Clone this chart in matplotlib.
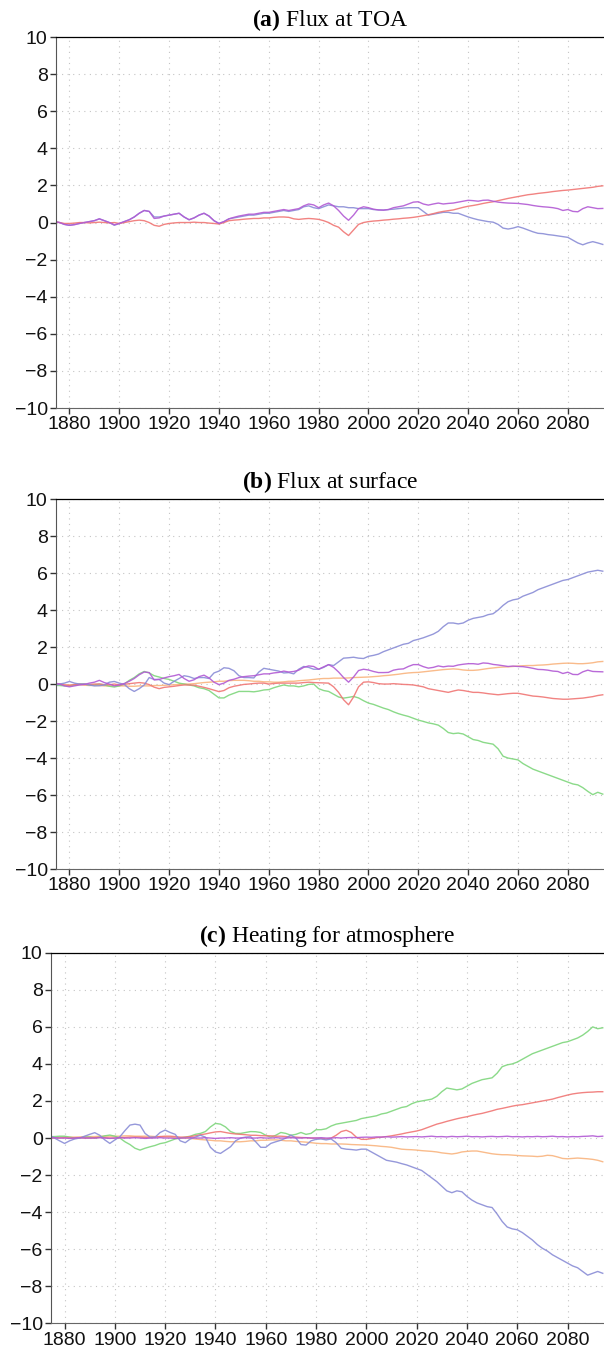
import numpy as np
import matplotlib
matplotlib.use("Agg")
import matplotlib.pyplot as plt

plt.rcParams['font.family'] = ['Liberation Sans', 'DejaVu Sans']
plt.rcParams['mathtext.fontset'] = 'custom'
plt.rcParams['mathtext.rm'] = 'Liberation Serif'
plt.rcParams['mathtext.bf'] = 'Liberation Serif:bold'
plt.rcParams['axes.unicode_minus'] = True

# years, every second year
years = np.arange(1874, 2095, 2)

# ---- (a) Flux at TOA ----
toa_blue = [0.05, 0.0, -0.1,
            -0.15, -0.1, -0.05, 0.0, 0.05,
            0.1, 0.2, 0.1, 0.0, -0.15,
            -0.05, 0.05, 0.15, 0.3, 0.5,
            0.65, 0.6, 0.3, 0.3, 0.35,
            0.4, 0.45, 0.5, 0.3, 0.15,
            0.25, 0.4, 0.5, 0.35, 0.1,
            -0.05, 0.05, 0.2, 0.25, 0.3,
            0.35, 0.4, 0.4, 0.45, 0.5,
            0.5, 0.55, 0.6, 0.65, 0.6,
            0.65, 0.7, 0.85, 0.9, 0.8,
            0.75, 0.85, 0.95, 0.9, 0.85,
            0.85, 0.8, 0.8, 0.75, 0.75,
            0.75, 0.7, 0.68, 0.67, 0.7,
            0.72, 0.75, 0.78, 0.8, 0.8,
            0.8, 0.6, 0.4, 0.45, 0.5,
            0.55, 0.55, 0.5, 0.5, 0.4,
            0.3, 0.22, 0.15, 0.1, 0.05,
            0.02, -0.1, -0.3, -0.35, -0.3,
            -0.22, -0.3, -0.4, -0.5, -0.58,
            -0.6, -0.65, -0.68, -0.72, -0.76,
            -0.8, -0.95, -1.1, -1.2, -1.1,
            -1.03, -1.1, -1.18]
toa_purple = [0.05, 0.0, -0.1,
              -0.15, -0.12, -0.05, 0.0, 0.05,
              0.1, 0.2, 0.1, 0.0, -0.12,
              -0.05, 0.05, 0.15, 0.3, 0.5,
              0.65, 0.6, 0.22, 0.25, 0.35,
              0.4, 0.45, 0.5, 0.3, 0.15,
              0.25, 0.4, 0.5, 0.35, 0.1,
              -0.05, 0.05, 0.2, 0.28, 0.35,
              0.4, 0.45, 0.45, 0.5, 0.55,
              0.55, 0.6, 0.65, 0.7, 0.65,
              0.7, 0.75, 0.9, 1.0, 0.95,
              0.8, 0.95, 1.05, 0.9, 0.65,
              0.35, 0.12, 0.4, 0.75, 0.85,
              0.8, 0.72, 0.68, 0.67, 0.7,
              0.8, 0.85, 0.9, 1.0, 1.1,
              1.12, 1.0, 0.94, 1.0, 1.05,
              1.0, 1.03, 1.05, 1.1, 1.15,
              1.2, 1.18, 1.15, 1.2, 1.21,
              1.15, 1.1, 1.07, 1.05, 1.04,
              1.03, 1.0, 0.97, 0.92, 0.88,
              0.85, 0.83, 0.8, 0.75, 0.65,
              0.7, 0.6, 0.58, 0.75, 0.85,
              0.8, 0.75, 0.76]
toa_red = [0.05, 0.0, -0.05,
           -0.05, -0.03, 0.0, 0.0, -0.02,
           0.0, 0.02, 0.0, -0.02, 0.0,
           -0.05, 0.0, 0.05, 0.1, 0.13,
           0.1, 0.0, -0.15, -0.2, -0.1,
           -0.05, -0.02, 0.0, 0.0, 0.0,
           0.02, 0.0, 0.0, -0.03, -0.05,
           -0.08, 0.0, 0.1, 0.13, 0.15,
           0.18, 0.2, 0.22, 0.22, 0.25,
           0.25, 0.28, 0.3, 0.3, 0.28,
           0.2, 0.17, 0.2, 0.22, 0.2,
           0.17, 0.1, 0.0, -0.15, -0.25,
           -0.5, -0.7, -0.4, -0.1, 0.0,
           0.05, 0.08, 0.1, 0.13, 0.15,
           0.18, 0.2, 0.23, 0.25, 0.28,
           0.32, 0.37, 0.42, 0.48, 0.55,
           0.6, 0.64, 0.68, 0.75, 0.82,
           0.88, 0.92, 0.97, 1.03, 1.08,
           1.12, 1.18, 1.24, 1.3, 1.35,
           1.4, 1.45, 1.5, 1.53, 1.57,
           1.6, 1.63, 1.67, 1.7, 1.73,
           1.75, 1.78, 1.81, 1.84, 1.87,
           1.9, 1.95, 1.98]

# ---- (b) Flux at surface ----
sfc_blue = [-0.1, 0.0, 0.05,
            0.14, 0.05, 0.0, 0.0, -0.05,
            -0.1, -0.09, -0.05, 0.1, 0.14,
            0.05, -0.02, -0.25, -0.4, -0.25,
            -0.05, 0.35, 0.25, 0.25, 0.05,
            -0.03, 0.15, 0.3, 0.45, 0.4,
            0.3, 0.35, 0.35, 0.3, 0.6,
            0.7, 0.88, 0.85, 0.72, 0.45,
            0.35, 0.35, 0.33, 0.65, 0.85,
            0.8, 0.75, 0.7, 0.6, 0.62,
            0.55, 0.8, 0.95, 0.9, 0.8,
            0.8, 0.9, 1.05, 1.0, 1.2,
            1.4, 1.42, 1.45, 1.4, 1.38,
            1.5, 1.55, 1.62, 1.75, 1.85,
            1.95, 2.05, 2.15, 2.2, 2.35,
            2.42, 2.5, 2.6, 2.7, 2.85,
            3.1, 3.3, 3.3, 3.25, 3.3,
            3.45, 3.55, 3.6, 3.65, 3.75,
            3.8, 4.0, 4.25, 4.45, 4.55,
            4.6, 4.75, 4.85, 4.95, 5.1,
            5.2, 5.3, 5.4, 5.5, 5.6,
            5.65, 5.75, 5.85, 5.95, 6.05,
            6.1, 6.15, 6.1]
sfc_purple = [0.05, 0.0, -0.1,
              -0.15, -0.1, -0.05, -0.02, 0.05,
              0.1, 0.2, 0.08, 0.0, -0.1,
              -0.05, 0.03, 0.15, 0.3, 0.5,
              0.65, 0.62, 0.22, 0.25, 0.33,
              0.4, 0.45, 0.52, 0.3, 0.15,
              0.23, 0.4, 0.48, 0.33, 0.1,
              -0.03, 0.05, 0.2, 0.26, 0.35,
              0.4, 0.43, 0.45, 0.5, 0.55,
              0.55, 0.6, 0.63, 0.7, 0.65,
              0.68, 0.75, 0.9, 0.98, 0.95,
              0.8, 0.93, 1.05, 0.9, 0.65,
              0.35, 0.1, 0.38, 0.73, 0.8,
              0.76, 0.68, 0.62, 0.62, 0.63,
              0.75, 0.8, 0.82, 0.95, 1.05,
              1.05, 0.94, 0.86, 0.9, 0.98,
              0.93, 0.97, 0.96, 1.03, 1.07,
              1.1, 1.1, 1.07, 1.14, 1.12,
              1.06, 1.03, 0.99, 0.95, 0.97,
              0.95, 0.94, 0.9, 0.85, 0.79,
              0.78, 0.75, 0.7, 0.68, 0.57,
              0.64, 0.52, 0.51, 0.66, 0.75,
              0.68, 0.67, 0.66]
sfc_red = [0.05, 0.0, -0.05,
           -0.07, -0.03, 0.0, -0.02, -0.02,
           0.0, 0.0, -0.03, -0.04, 0.0,
           -0.05, -0.02, 0.02, 0.05, 0.08,
           0.05, -0.03, -0.17, -0.25, -0.18,
           -0.15, -0.12, -0.08, -0.05, -0.05,
           -0.06, -0.12, -0.18, -0.25, -0.33,
           -0.41, -0.35, -0.2, -0.12, -0.07,
           -0.02, 0.0, 0.03, 0.05, 0.05,
           0.0, 0.03, 0.05, 0.05, 0.05,
           0.05, 0.05, 0.08, 0.1, 0.08,
           0.07, 0.06, 0.05, -0.15, -0.45,
           -0.85, -1.12, -0.7, -0.15, 0.1,
           0.12, 0.08, 0.02, 0.0, 0.0,
           0.02, 0.0, -0.02, -0.03, -0.05,
           -0.1, -0.15, -0.25, -0.3, -0.35,
           -0.4, -0.45, -0.38, -0.32, -0.35,
           -0.4, -0.45, -0.45, -0.48, -0.52,
           -0.55, -0.58, -0.55, -0.52, -0.5,
           -0.5, -0.55, -0.6, -0.65, -0.67,
           -0.7, -0.74, -0.78, -0.8, -0.82,
           -0.82, -0.8, -0.78, -0.76, -0.72,
           -0.68, -0.62, -0.58]
sfc_green = [-0.07, -0.08, -0.1,
             -0.1, -0.05, 0.0, 0.0, -0.05,
             -0.05, 0.0, -0.05, -0.12, -0.16,
             -0.1, 0.0, 0.2, 0.35, 0.55,
             0.68, 0.6, 0.45, 0.38, 0.3,
             0.25, 0.15, 0.05, 0.0, -0.05,
             -0.1, -0.2, -0.25, -0.35, -0.55,
             -0.75, -0.75, -0.6, -0.5, -0.4,
             -0.4, -0.4, -0.42, -0.38, -0.32,
             -0.3, -0.2, -0.12, -0.05, -0.1,
             -0.1, -0.15, -0.1, -0.02, 0.0,
             -0.25, -0.35, -0.4, -0.55, -0.7,
             -0.76, -0.72, -0.67, -0.75, -0.9,
             -1.03, -1.1, -1.2, -1.3, -1.38,
             -1.5, -1.6, -1.68, -1.75, -1.85,
             -1.95, -2.02, -2.1, -2.15, -2.22,
             -2.4, -2.62, -2.68, -2.65, -2.7,
             -2.85, -3.0, -3.05, -3.15, -3.2,
             -3.25, -3.5, -3.9, -4.0, -4.05,
             -4.1, -4.3, -4.45, -4.6, -4.7,
             -4.8, -4.9, -5.0, -5.1, -5.2,
             -5.3, -5.4, -5.45, -5.6, -5.8,
             -5.98, -5.85, -5.95]
sfc_orange = [0.0, -0.02, -0.05,
              -0.05, -0.05, -0.04, -0.06, -0.08,
              -0.07, -0.08, -0.1, -0.1, -0.1,
              -0.1, -0.1, -0.12, -0.12, -0.1,
              -0.1, -0.1, -0.08, -0.08, -0.07,
              -0.05, -0.04, -0.02, 0.0, 0.0,
              0.02, 0.05, 0.08, 0.1, 0.12,
              0.15, 0.15, 0.18, 0.2, 0.2,
              0.2, 0.18, 0.15, 0.15, 0.12,
              0.12, 0.1, 0.1, 0.12, 0.15,
              0.15, 0.18, 0.2, 0.22, 0.25,
              0.28, 0.3, 0.3, 0.32, 0.32,
              0.32, 0.33, 0.35, 0.36, 0.37,
              0.38, 0.4, 0.42, 0.45, 0.47,
              0.5, 0.53, 0.57, 0.6, 0.62,
              0.63, 0.66, 0.69, 0.72, 0.75,
              0.78, 0.8, 0.82, 0.8, 0.76,
              0.74, 0.74, 0.76, 0.8, 0.84,
              0.87, 0.9, 0.92, 0.93, 0.95,
              0.97, 0.99, 1.0, 1.0, 1.02,
              1.03, 1.05, 1.08, 1.1, 1.12,
              1.13, 1.12, 1.1, 1.1, 1.12,
              1.15, 1.2, 1.22]

# ---- (c) Heating for atmosphere ----
atm_blue = [0.16, 0.0, -0.15,
            -0.29, -0.15, -0.05, 0.0, 0.1,
            0.2, 0.29, 0.15, -0.1, -0.29,
            -0.1, 0.07, 0.4, 0.7, 0.75,
            0.7, 0.25, 0.05, 0.05, 0.3,
            0.43, 0.3, 0.2, -0.15, -0.25,
            -0.05, 0.05, 0.15, 0.05, -0.5,
            -0.75, -0.83, -0.65, -0.47, -0.15,
            0.0, 0.05, 0.07, -0.2, -0.5,
            -0.5, -0.29, -0.2, -0.12, 0.0,
            0.16, 0.0, -0.35, -0.38, -0.15,
            -0.07, -0.05, -0.1, -0.05, -0.25,
            -0.55, -0.6, -0.62, -0.65, -0.6,
            -0.6, -0.75, -0.9, -1.05, -1.2,
            -1.25, -1.3, -1.38, -1.45, -1.55,
            -1.65, -1.75, -1.95, -2.15, -2.35,
            -2.6, -2.85, -2.95, -2.85, -2.9,
            -3.15, -3.35, -3.5, -3.6, -3.7,
            -3.75, -4.1, -4.5, -4.8, -4.9,
            -4.95, -5.1, -5.3, -5.5, -5.75,
            -5.95, -6.1, -6.3, -6.45, -6.6,
            -6.75, -6.9, -7.0, -7.2, -7.4,
            -7.3, -7.2, -7.3]
atm_purple = [0.0, 0.02, 0.0,
              0.0, -0.02, 0.0, 0.02, 0.0,
              0.0, 0.0, 0.02, 0.0, -0.02,
              0.0, 0.02, 0.0, 0.0, 0.02,
              0.0, -0.02, 0.0, 0.0, 0.02,
              0.0, 0.0, -0.02, 0.0, 0.0,
              0.02, 0.0, 0.0, 0.02, 0.0,
              -0.02, 0.0, 0.0, 0.02, 0.0,
              0.0, 0.02, 0.0, 0.0, 0.02,
              0.0, 0.0, 0.02, 0.0, 0.0,
              0.02, 0.0, 0.0, 0.02, 0.0,
              0.0, 0.02, 0.0, 0.0, 0.02,
              0.0, 0.02, 0.03, 0.02, 0.04,
              0.05, 0.04, 0.06, 0.05, 0.07,
              0.05, 0.06, 0.08, 0.06, 0.07,
              0.08, 0.06, 0.08, 0.1, 0.07,
              0.08, 0.06, 0.09, 0.07, 0.08,
              0.1, 0.07, 0.08, 0.06, 0.08,
              0.09, 0.07, 0.08, 0.1, 0.07,
              0.08, 0.06, 0.08, 0.07, 0.09,
              0.07, 0.08, 0.1, 0.07, 0.08,
              0.06, 0.08, 0.07, 0.09, 0.1,
              0.12, 0.08, 0.1]
atm_red = [0.0, 0.0, 0.0,
           0.02, 0.0, 0.0, 0.02, 0.0,
           0.0, 0.02, 0.03, 0.02, 0.0,
           0.0, 0.02, 0.03, 0.05, 0.05,
           0.05, 0.03, 0.02, 0.05, 0.08,
           0.1, 0.1, 0.08, 0.05, 0.05,
           0.08, 0.12, 0.18, 0.22, 0.28,
           0.33, 0.35, 0.3, 0.25, 0.22,
           0.2, 0.18, 0.15, 0.15, 0.13,
           0.12, 0.12, 0.1, 0.1, 0.08,
           0.05, 0.05, 0.03, 0.02, 0.0,
           0.0, -0.02, -0.05, 0.0, 0.15,
           0.35, 0.42, 0.3, 0.05, -0.07,
           -0.07, -0.03, 0.02, 0.05, 0.08,
           0.12, 0.17, 0.22, 0.28, 0.33,
           0.38, 0.45, 0.55, 0.65, 0.75,
           0.82, 0.9, 0.97, 1.04, 1.1,
           1.15, 1.22, 1.28, 1.33, 1.4,
           1.47, 1.55, 1.6, 1.66, 1.72,
           1.77, 1.8, 1.85, 1.9, 1.95,
           2.0, 2.05, 2.1, 2.18, 2.25,
           2.32, 2.38, 2.42, 2.45, 2.47,
           2.48, 2.5, 2.5]
atm_green = [0.07, 0.08, 0.1,
             0.1, 0.05, 0.0, 0.0, 0.05,
             0.05, 0.0, 0.05, 0.12, 0.16,
             0.1, 0.0, -0.2, -0.35, -0.55,
             -0.65, -0.55, -0.47, -0.4, -0.3,
             -0.25, -0.15, -0.05, 0.0, 0.05,
             0.1, 0.2, 0.25, 0.35, 0.6,
             0.79, 0.75, 0.6, 0.35, 0.25,
             0.25, 0.3, 0.35, 0.34, 0.3,
             0.15, 0.05, 0.15, 0.3, 0.25,
             0.15, 0.2, 0.3, 0.2, 0.25,
             0.45, 0.45, 0.5, 0.65, 0.75,
             0.8, 0.85, 0.9, 0.95, 1.05,
             1.1, 1.15, 1.2, 1.3, 1.35,
             1.45, 1.55, 1.65, 1.7, 1.85,
             1.95, 2.0, 2.05, 2.1, 2.25,
             2.5, 2.7, 2.65, 2.6, 2.65,
             2.8, 2.95, 3.05, 3.15, 3.2,
             3.25, 3.5, 3.85, 3.95, 4.0,
             4.1, 4.25, 4.4, 4.55, 4.65,
             4.75, 4.85, 4.95, 5.05, 5.15,
             5.2, 5.3, 5.4, 5.55, 5.75,
             6.0, 5.9, 5.95]
atm_orange = [0.0, 0.02, 0.05,
              0.05, 0.05, 0.05, 0.06, 0.08,
              0.08, 0.08, 0.1, 0.1, 0.1,
              0.1, 0.1, 0.12, 0.12, 0.1,
              0.1, 0.1, 0.1, 0.08, 0.08,
              0.05, 0.05, 0.02, 0.0, 0.0,
              -0.02, -0.05, -0.08, -0.1, -0.12,
              -0.15, -0.15, -0.18, -0.2, -0.2,
              -0.2, -0.18, -0.15, -0.15, -0.12,
              -0.12, -0.1, -0.1, -0.12, -0.15,
              -0.15, -0.18, -0.2, -0.22, -0.25,
              -0.28, -0.3, -0.3, -0.32, -0.32,
              -0.32, -0.33, -0.35, -0.36, -0.37,
              -0.38, -0.4, -0.42, -0.45, -0.47,
              -0.5, -0.55, -0.6, -0.62, -0.63,
              -0.65, -0.68, -0.7, -0.72, -0.75,
              -0.8, -0.83, -0.86, -0.82, -0.75,
              -0.72, -0.7, -0.7, -0.75, -0.8,
              -0.85, -0.88, -0.9, -0.9, -0.92,
              -0.94, -0.96, -0.97, -0.98, -1.0,
              -0.98, -0.93, -0.95, -1.02, -1.1,
              -1.12, -1.1, -1.08, -1.1, -1.12,
              -1.15, -1.2, -1.28]

c_blue = '#8a8dd6'
c_purple = '#b25ad4'
c_red = '#f07674'
c_green = '#7ed67c'
c_orange = '#f9b47e'

panels = [
    ("(a)", "Flux at TOA", [0.0927, 0.6982, 0.9073, 0.2744],
     [(toa_blue, c_blue), (toa_red, c_red), (toa_purple, c_purple)]),
    ("(b)", "Flux at surface", [0.0927, 0.3572, 0.9073, 0.2737],
     [(sfc_orange, c_orange), (sfc_green, c_green), (sfc_red, c_red),
      (sfc_blue, c_blue), (sfc_purple, c_purple)]),
    ("(c)", "Heating for atmosphere", [0.0844, 0.0212, 0.9156, 0.2741],
     [(atm_orange, c_orange), (atm_green, c_green), (atm_red, c_red),
      (atm_blue, c_blue), (atm_purple, c_purple)]),
]

fig = plt.figure(figsize=(6.04, 13.52), dpi=100)

for tag, name, rect, lines in panels:
    ax = fig.add_axes(rect)
    for vals, col in lines:
        ax.plot(years, vals, color=col, lw=1.0, alpha=0.9)
    ax.set_xlim(1874.6, 2094.5)
    ax.set_ylim(-10, 10)
    ax.set_xticks(np.arange(1880, 2081, 20))
    ax.set_yticks(np.arange(-10, 11, 2))
    ax.grid(True, color='#c4c4c4', linestyle=(0, (1, 4)), lw=0.8)
    ax.tick_params(direction='out', length=4, width=1, colors='#333333',
                   labelsize=14, labelcolor='#111111', pad=2)
    ax.spines['right'].set_visible(False)
    ax.spines['top'].set_linestyle((0, (3, 1)))
    ax.spines['top'].set_color('black')
    ax.spines['top'].set_linewidth(0.9)
    ax.spines['left'].set_color('#555555')
    ax.spines['bottom'].set_color('#666666')
    ax.spines['bottom'].set_linewidth(0.8)
    ax.set_title(r"$\mathbf{" + tag + "}$ " + name,
                 family='Liberation Serif', fontsize=17, pad=8)

fig.savefig("out.png", dpi=100)
